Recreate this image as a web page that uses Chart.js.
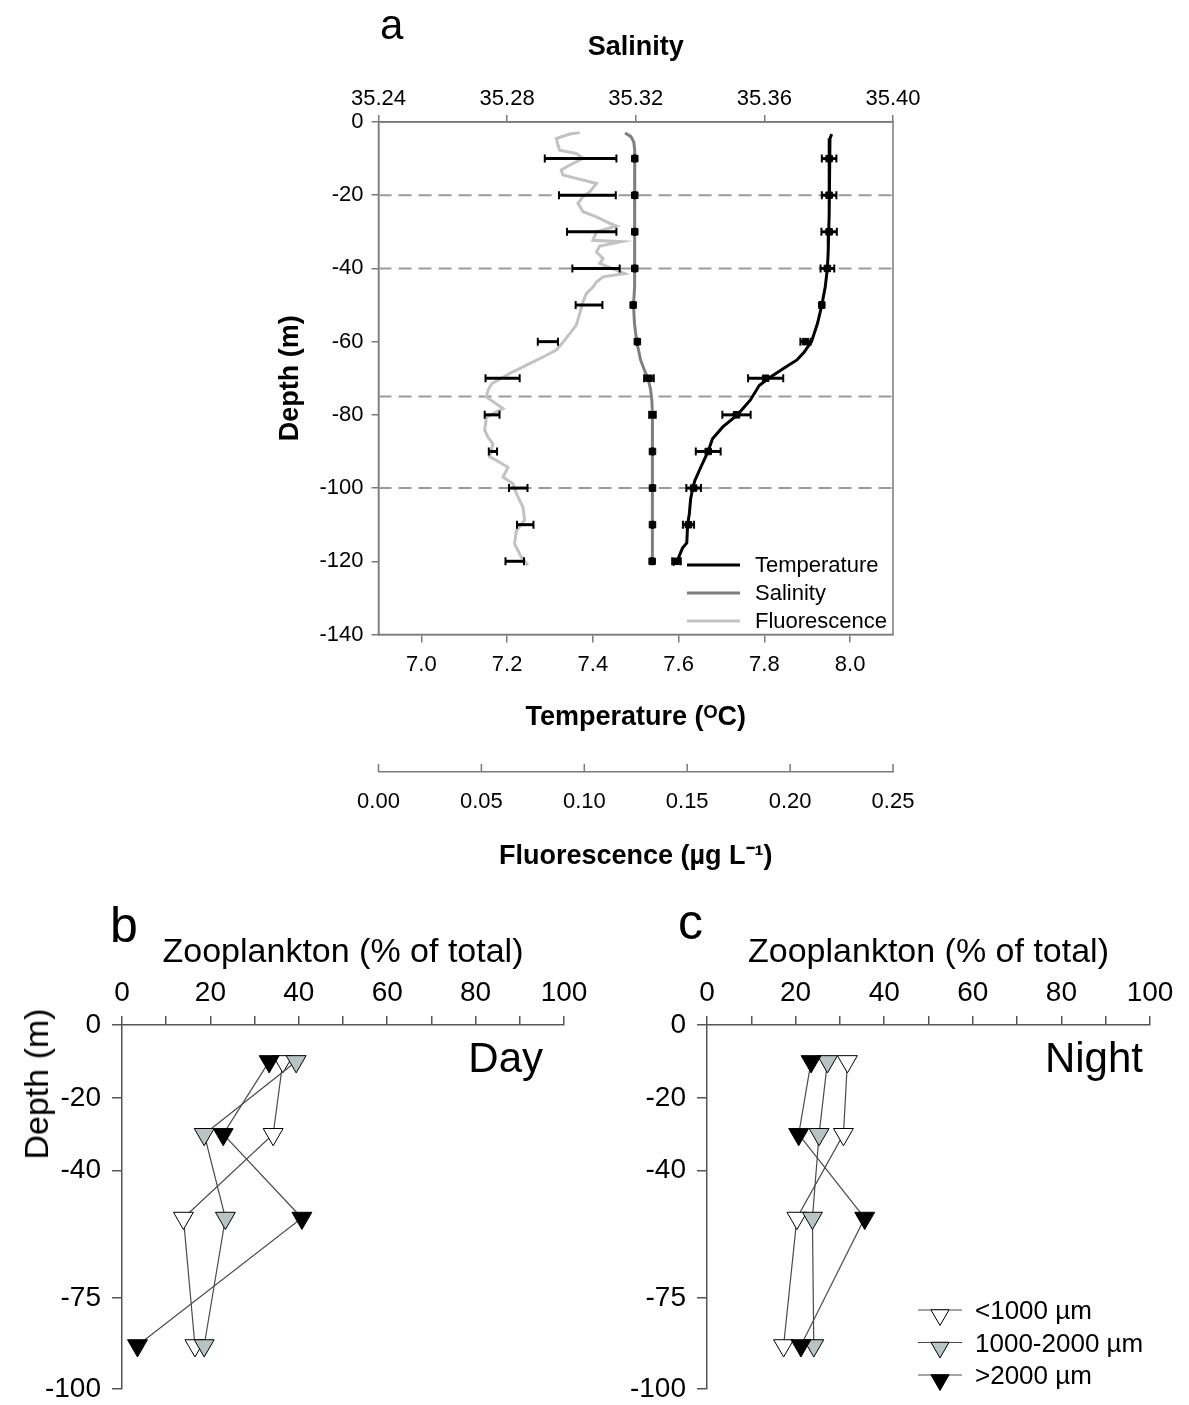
<!DOCTYPE html>
<html>
<head>
<meta charset="utf-8">
<script src="https://cdn.jsdelivr.net/npm/chart.js@4.4.1/dist/chart.umd.min.js"></script>
<style>
html,body{margin:0;padding:0;background:#fff;}
body{width:1189px;height:1405px;position:relative;overflow:hidden;font-family:"Liberation Sans",Arial,sans-serif;}
.box{position:absolute;}
.lbl{position:absolute;color:#000;line-height:1;white-space:nowrap;}
</style>
</head>
<body>
<div class="box" style="left:0;top:0;width:1189px;height:880px"><canvas id="chA"></canvas></div>
<div class="box" style="left:0;top:880px;width:600px;height:537px"><canvas id="chB"></canvas></div>
<div class="box" style="left:600px;top:880px;width:589px;height:537px"><canvas id="chC"></canvas></div>

<div class="lbl" style="left:380px;top:4px;font-size:42px">a</div>
<div class="lbl" style="left:110px;top:900px;font-size:50px">b</div>
<div class="lbl" style="left:678px;top:897px;font-size:50px">c</div>
<div class="lbl" style="right:646px;top:1037px;font-size:42px">Day</div>
<div class="lbl" style="right:46px;top:1037px;font-size:42px">Night</div>
<div class="lbl" style="left:36px;top:1084px;font-size:34px;transform:translate(-50%,-50%) rotate(-90deg)">Depth (m)</div>

<script>
// ---- panel a : CTD profiles ----
const depthTicks = [0, -20, -40, -60, -80, -100, -120, -140];
const salinityTicks = [35.24, 35.28, 35.32, 35.36, 35.40];
const temperatureTicks = [7.0, 7.2, 7.4, 7.6, 7.8, 8.0];
const fluorescenceTicks = [0, 0.05, 0.10, 0.15, 0.20, 0.25];
const tempRange = [6.9, 8.1];
const layerDepths = [-20, -40, -75, -100];   // dashed layer limits

const tempDepth = [-3.3,-4.5,-6,-10,-15,-20,-25,-30,-35,-40,-45,-50,-55,-60,-63,-65,-67,-70,-72,-76,-80,-83.3,-86.5,-90.2,-94.2,-97.9,-100,-103,-107,-110,-115,-116.4,-118.4,-120.2,-121];
const tempValue = [7.957,7.953,7.951,7.951,7.952,7.951,7.951,7.950,7.949,7.947,7.942,7.934,7.924,7.910,7.892,7.876,7.849,7.810,7.788,7.767,7.737,7.703,7.679,7.668,7.652,7.638,7.633,7.628,7.625,7.621,7.619,7.609,7.602,7.596,7.586];

const salDepth = [-3,-4,-5.5,-8,-15,-25,-35,-45,-50,-55,-60,-65,-68,-70,-73,-76,-80,-90,-100,-110,-118,-121];
const salValue = [35.3167,35.3185,35.3194,35.3197,35.3197,35.3197,35.3197,35.3195,35.3193,35.3196,35.3203,35.3215,35.3228,35.3238,35.3246,35.3250,35.3252,35.3252,35.3252,35.3252,35.3251,35.3250];

const fluoDepth = [-2.9,-3.3,-4.5,-6.3,-7.7,-8.6,-9.9,-11.8,-13.1,-14.5,-15.4,-16.8,-19.1,-20.4,-22.2,-24.5,-25.9,-27.7,-28.4,-30,-32.3,-32.7,-33.9,-35.5,-37.3,-38.6,-41.4,-42.3,-43.7,-45.1,-46.9,-49.1,-52.3,-55.5,-57.8,-59.6,-62.3,-64.2,-66,-68.7,-71.5,-73.3,-75.1,-78.3,-80.6,-84.2,-86.1,-87.9,-91.5,-92.4,-94.3,-97,-98.8,-101.5,-105.2,-108.8,-111.6,-115.2,-118.9,-121.1];
const fluoValue = [.0978,.0929,.0864,.0872,.0880,.0961,.0994,.0929,.0888,.0896,.0961,.1059,.1026,.0994,.0969,.0994,.1059,.1124,.1156,.1059,.1042,.118,.1075,.1059,.1091,.1075,.1197,.1091,.1059,.1042,.101,.0994,.0978,.0961,.0929,.0905,.0864,.0799,.0734,.0637,.055,.0532,.0524,.0605,.0524,.0516,.0532,.0556,.054,.0572,.0629,.0605,.0653,.067,.0702,.071,.067,.0661,.0694,.0726];

// sampled means +- sd
const barDepths = [-10,-20,-30,-40,-50,-60,-70,-80,-90,-100,-110,-120];
const tempMean = [7.951,7.951,7.951,7.947,7.934,7.896,7.803,7.735,7.669,7.635,7.623,7.595];
const tempSd   = [0.017,0.017,0.018,0.016,0.004,0.012,0.041,0.033,0.029,0.017,0.013,0.010];
const salMean  = [35.3197,35.3197,35.3197,35.3197,35.3192,35.3205,35.3241,35.3252,35.3252,35.3252,35.3252,35.3251];
const salSd    = [0.0002,0.0002,0.0002,0.0002,0.0002,0.0002,0.0015,0.001,0.0002,0.0002,0.0002,0.0002];
const fluoMean = [0.0982,0.1015,0.1036,0.1057,0.1023,0.0823,0.0603,0.0552,0.0556,0.0679,0.0713,0.0662];
const fluoSd   = [0.0174,0.0138,0.012,0.0115,0.0065,0.0049,0.0083,0.0036,0.002,0.0045,0.004,0.0045];

const profileNames = ['Temperature', 'Salinity', 'Fluorescence'];

// ---- panels b, c : zooplankton ----
const zooDepths = [-10, -30, -53, -88];
const zooDepthTicks = [0, -20, -40, -75, -100];
const sizeClasses = ['<1000 µm', '1000-2000 µm', '>2000 µm'];
const dayValues = [
  [36.4, 34.2, 13.9, 16.5],   // <1000
  [39.4, 18.6, 23.4, 18.6],   // 1000-2000
  [33.3, 22.9, 40.7, 3.5]     // >2000
];
const nightValues = [
  [31.7, 30.8, 20.3, 17.3],
  [27.2, 25.3, 23.8, 24.1],
  [23.5, 20.7, 35.6, 21.2]
];
const classFill = ['#ffffff', '#b7c4c4', '#000000'];

Chart.defaults.font.family = '"Liberation Sans", Arial, sans-serif';
Chart.defaults.color = '#000';
const axisGray = '#7a7a7a';

const pts = (xs, ys) => xs.map((v, i) => ({x: v, y: ys[i]}));
const setTicks = vals => s => { s.ticks = vals.map(v => ({value: v})); };

const frame = {
  id: 'frame',
  beforeDatasetsDraw(chart) {
    const {ctx, chartArea: a} = chart;
    ctx.save();
    ctx.strokeStyle = axisGray; ctx.lineWidth = 1.5;
    ctx.strokeRect(a.left, a.top, a.right - a.left, a.bottom - a.top);
    ctx.restore();
  }
};

// error bars on datasets that carry an "errors" array
const errorBars = {
  id: 'errorBars',
  afterDatasetsDraw(chart) {
    const ctx = chart.ctx;
    chart.data.datasets.forEach(ds => {
      if (!ds.errors) return;
      const xs = chart.scales[ds.xAxisID], ys = chart.scales[ds.yAxisID];
      ctx.save();
      ctx.strokeStyle = '#000';
      ds.data.forEach((p, j) => {
        const e = ds.errors[j];
        const x0 = xs.getPixelForValue(p.x - e), x1 = xs.getPixelForValue(p.x + e);
        const y = ys.getPixelForValue(p.y);
        ctx.lineWidth = 3;
        ctx.beginPath(); ctx.moveTo(x0, y); ctx.lineTo(x1, y); ctx.stroke();
        ctx.lineWidth = 2;
        ctx.beginPath();
        ctx.moveTo(x0, y - 4); ctx.lineTo(x0, y + 4);
        ctx.moveTo(x1, y - 4); ctx.lineTo(x1, y + 4);
        ctx.stroke();
      });
      ctx.restore();
    });
  }
};

// fluorescence axis has its ticks pointing up
const upTicks = {
  id: 'upTicks',
  afterDraw(chart) {
    const s = chart.scales.xF, ctx = chart.ctx;
    ctx.save();
    ctx.strokeStyle = axisGray; ctx.lineWidth = 1.5;
    s.ticks.forEach(t => {
      const x = s.getPixelForValue(t.value);
      ctx.beginPath(); ctx.moveTo(x, s.top); ctx.lineTo(x, s.top - 8); ctx.stroke();
    });
    ctx.restore();
  }
};

const profileLegend = {
  id: 'profileLegend',
  afterDraw(chart) {
    const {ctx, chartArea: a} = chart;
    const sets = chart.data.datasets.filter(d => d.legendRow !== undefined);
    ctx.save();
    ctx.font = '22px "Liberation Sans", Arial, sans-serif';
    ctx.textBaseline = 'middle';
    sets.forEach(ds => {
      const y = a.bottom - 69.5 + ds.legendRow * 28;
      ctx.strokeStyle = ds.borderColor; ctx.lineWidth = 3;
      ctx.beginPath(); ctx.moveTo(a.right - 206, y); ctx.lineTo(a.right - 153, y); ctx.stroke();
      ctx.fillStyle = '#000';
      ctx.fillText(ds.label, a.right - 138, y + 1);
    });
    ctx.restore();
  }
};

new Chart(document.getElementById('chA'), {
  type: 'scatter',
  data: {datasets: [
    ...layerDepths.map(d => ({
      data: pts(tempRange, [d, d]), showLine: true, borderColor: '#9a9a9a', borderWidth: 2,
      borderDash: [13, 7], pointRadius: 0, xAxisID: 'x', yAxisID: 'y', order: 10
    })),
    {label: profileNames[2], legendRow: 2, data: pts(fluoValue, fluoDepth), showLine: true,
     borderColor: '#c2c2c2', borderWidth: 3, pointRadius: 0, xAxisID: 'xF', yAxisID: 'y', order: 9},
    {label: profileNames[1], legendRow: 1, data: pts(salValue, salDepth), showLine: true,
     borderColor: '#7f7f7f', borderWidth: 3, pointRadius: 0, xAxisID: 'xS', yAxisID: 'y', order: 8},
    {label: profileNames[0], legendRow: 0, data: pts(tempValue, tempDepth), showLine: true,
     borderColor: '#000000', borderWidth: 3, pointRadius: 0, xAxisID: 'x', yAxisID: 'y', order: 7},
    {data: pts(fluoMean, barDepths), errors: fluoSd, pointRadius: 0, xAxisID: 'xF', yAxisID: 'y', order: 3},
    {data: pts(salMean, barDepths), errors: salSd, pointStyle: 'rect', pointRadius: 4.6,
     backgroundColor: '#000', borderColor: '#000', xAxisID: 'xS', yAxisID: 'y', order: 2},
    {data: pts(tempMean, barDepths), errors: tempSd, pointStyle: 'rect', pointRadius: 4.6,
     backgroundColor: '#000', borderColor: '#000', xAxisID: 'x', yAxisID: 'y', order: 1}
  ]},
  options: {
    responsive: true, maintainAspectRatio: false, animation: false, events: [],
    layout: {padding: {left: 270, right: 296, top: 20, bottom: 0}},
    plugins: {legend: {display: false}, tooltip: {enabled: false}},
    scales: {
      y: {
        type: 'linear', position: 'left', min: -140, max: 0,
        afterBuildTicks: setTicks(depthTicks),
        afterFit: s => { s.width = 108.5; },
        grid: {drawOnChartArea: false, tickLength: 7, color: axisGray, lineWidth: 1.5},
        border: {color: axisGray, width: 1.5},
        ticks: {font: {size: 22}, padding: 8, autoSkip: false, callback: v => String(v)},
        title: {display: true, text: 'Depth (m)', font: {size: 27, weight: 'bold'}, padding: {top: 4, bottom: 0}}
      },
      xS: {
        type: 'linear', axis: 'x', position: 'top', min: 35.24, max: 35.40,
        afterBuildTicks: setTicks(salinityTicks),
        afterFit: s => { s.height = 102; },
        grid: {drawOnChartArea: false, tickLength: 7, color: axisGray, lineWidth: 1.5},
        border: {color: axisGray, width: 1.5},
        ticks: {font: {size: 22}, padding: 3, autoSkip: false, maxRotation: 0, callback: v => v.toFixed(2)},
        title: {display: true, text: 'Salinity', font: {size: 27, weight: 'bold'}, padding: {top: 11, bottom: 0}}
      },
      x: {
        type: 'linear', position: 'bottom', weight: 0, min: tempRange[0], max: tempRange[1],
        afterBuildTicks: setTicks(temperatureTicks),
        afterFit: s => { s.height = 137.5; },
        grid: {drawOnChartArea: false, tickLength: 8, color: axisGray, lineWidth: 1.5},
        border: {color: axisGray, width: 1.5},
        ticks: {font: {size: 22}, padding: 9, autoSkip: false, maxRotation: 0, callback: v => v.toFixed(1)},
        title: {display: true, text: 'Temperature (ᴼC)', font: {size: 27, weight: 'bold'}, padding: {top: 0, bottom: 38}}
      },
      xF: {
        type: 'linear', axis: 'x', position: 'bottom', weight: 1, min: 0, max: 0.25,
        afterBuildTicks: setTicks(fluorescenceTicks),
        afterFit: s => { s.height = 108; },
        grid: {display: false, drawTicks: false},
        border: {display: true, color: axisGray, width: 1.5},
        ticks: {font: {size: 22}, padding: 17, autoSkip: false, maxRotation: 0, callback: v => v.toFixed(2)},
        title: {display: true, text: 'Fluorescence (µg L⁻¹)', font: {size: 27, weight: 'bold'}, padding: {top: 0, bottom: 7}}
      }
    }
  },
  plugins: [frame, errorBars, upTicks, profileLegend]
});

// ---- zooplankton panels ----
const zooLegend = {
  id: 'zooLegend',
  afterDraw(chart, args, opts) {
    if (!opts.show) return;
    const {ctx, chartArea: a} = chart;
    ctx.save();
    ctx.font = '26px "Liberation Sans", Arial, sans-serif';
    ctx.textBaseline = 'middle';
    sizeClasses.forEach((name, k) => {
      const ds = chart.data.datasets.find(d => d.cls === k);
      const y = a.top + 285 + k * 32.5;
      const x0 = a.left + 211;
      ctx.strokeStyle = ds.borderColor; ctx.lineWidth = 1.2;
      ctx.beginPath(); ctx.moveTo(x0, y); ctx.lineTo(x0 + 44, y); ctx.stroke();
      ctx.fillStyle = ds.pointBackgroundColor; ctx.strokeStyle = ds.pointBorderColor; ctx.lineWidth = 1;
      Chart.helpers.drawPoint(ctx, {pointStyle: 'triangle', rotation: 180, radius: 10.5, borderWidth: 1}, x0 + 22, y + 5);
      ctx.fillStyle = '#000';
      ctx.fillText(name, a.left + 268, y + 2);
    });
    ctx.restore();
  }
};

function zooChart(id, values, cfg) {
  return new Chart(document.getElementById(id), {
    type: 'scatter',
    data: {datasets: values.map((vals, k) => ({
      cls: k, data: pts(vals, zooDepths), showLine: true, tension: 0,
      borderColor: '#4a4a4a', borderWidth: 1.2,
      pointStyle: 'triangle', rotation: 180, pointRadius: 11.5,
      pointBackgroundColor: classFill[k], pointBorderColor: '#000', pointBorderWidth: 1,
      order: 3 - k, clip: false
    }))},
    options: {
      responsive: true, maintainAspectRatio: false, animation: false, events: [],
      layout: {padding: {left: cfg.padLeft, right: cfg.padRight, top: 40, bottom: 0}},
      plugins: {legend: {display: false}, tooltip: {enabled: false}, zooLegend: {show: cfg.legend}},
      scales: {
        y: {
          type: 'linear', position: 'left', min: -100, max: 0,
          afterBuildTicks: setTicks(zooDepthTicks),
          afterFit: s => { s.width = cfg.yWidth; },
          grid: {drawOnChartArea: false, tickLength: 10, color: '#555', lineWidth: 1.5},
          border: {color: '#555', width: 1.5},
          ticks: {font: {size: 28}, padding: 11, autoSkip: false, callback: v => String(v)}
        },
        x: {
          type: 'linear', position: 'top', min: 0, max: 100,
          ticks: {stepSize: 10, font: {size: 28}, padding: 6, autoSkip: false, maxRotation: 0,
                  callback: v => (v % 20 === 0 ? String(v) : '')},
          afterFit: s => { s.height = 105; },
          grid: {drawOnChartArea: false, tickLength: 9, color: '#555', lineWidth: 1.5},
          border: {color: '#555', width: 1.5},
          title: {display: true, text: 'Zooplankton (% of total)', font: {size: 34}, padding: {top: 12, bottom: 0}}
        }
      }
    },
    plugins: [zooLegend]
  });
}

zooChart('chB', dayValues, {padLeft: 10, padRight: 36, yWidth: 112, legend: false});
zooChart('chC', nightValues, {padLeft: 20, padRight: 39, yWidth: 87, legend: true});
</script>
</body>
</html>
